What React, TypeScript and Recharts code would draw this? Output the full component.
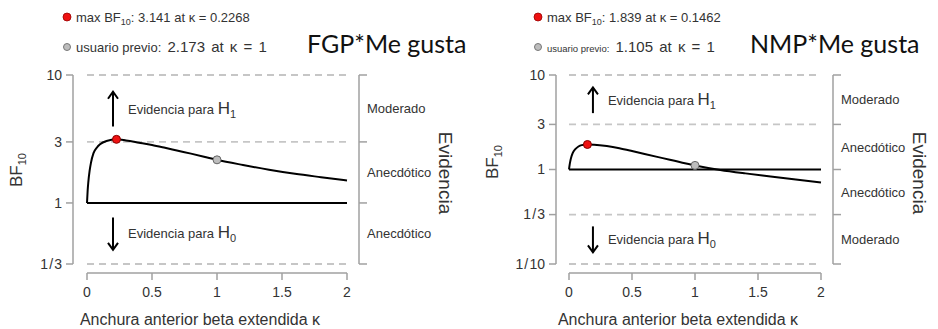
import React from 'react';
import { ComposedChart, Line, XAxis, YAxis, ReferenceLine, ReferenceDot } from 'recharts';

const FONT = '"Liberation Sans", Arial, sans-serif';
const TITLE_FONT = 'Lato, "Open Sans", sans-serif';
const INK = '#333333';
const AXIS = '#a0a0a0';
const GUIDE = '#c6c6c6';

const PANEL_W = 469;
const PANEL_H = 329;

// shared x axis
const xTicks = [0, 0.5, 1, 1.5, 2];

// FGP*Me gusta
const fgpKappa = [0, 0.005, 0.01, 0.02, 0.03, 0.05, 0.075, 0.1, 0.15, 0.2268, 0.3, 0.4, 0.5, 0.6, 0.7, 0.8, 0.9, 1, 1.2, 1.4, 1.6, 1.8, 2];
const fgpBf = [1, 1.25, 1.45, 1.78, 2.05, 2.45, 2.7, 2.87, 3.05, 3.141, 3.08, 2.96, 2.84, 2.7, 2.56, 2.43, 2.3, 2.173, 1.98, 1.82, 1.69, 1.59, 1.5];
const fgpTicks = [1 / 3, 1, 3, 10];
const fgpTickLabels = ['1\u200a/\u200a3', '1', '3', '10'];
const fgpBands = ['Anecdótico', 'Anecdótico', 'Moderado'];
const fgpMax = { k: 0.2268, bf: 3.141 };
const fgpUser = { k: 1, bf: 2.173 };
const fgpArrowUp = [3.95, 7.4];
const fgpArrowDown = [0.77, 0.43];

// NMP*Me gusta
const nmpKappa = [0, 0.005, 0.01, 0.02, 0.03, 0.05, 0.075, 0.1, 0.1462, 0.2, 0.3, 0.4, 0.5, 0.6, 0.7, 0.8, 0.9, 1, 1.2, 1.4, 1.6, 1.8, 2];
const nmpBf = [1, 1.12, 1.22, 1.38, 1.5, 1.64, 1.75, 1.81, 1.839, 1.83, 1.77, 1.68, 1.57, 1.46, 1.36, 1.27, 1.18, 1.105, 0.99, 0.91, 0.845, 0.785, 0.73];
const nmpTicks = [1 / 10, 1 / 3, 1, 3, 10];
const nmpTickLabels = ['1\u200a/\u200a10', '1\u200a/\u200a3', '1', '3', '10'];
const nmpBands = ['Moderado', 'Anecdótico', 'Anecdótico', 'Moderado'];
const nmpMax = { k: 0.1462, bf: 1.839 };
const nmpUser = { k: 1, bf: 1.105 };
const nmpArrowUp = [3.95, 7.4];
const nmpArrowDown = [0.25, 0.133];

interface PanelProps {
  left: number;
  title: string;
  titleX: number;
  kappa: number[];
  bf: number[];
  ticks: number[];
  tickLabels: string[];
  bands: string[];
  max: { k: number; bf: number };
  user: { k: number; bf: number };
  arrowUp: number[];
  arrowDown: number[];
  arrowX: number;
  plotLeft: number;
  plotRight: number;
  axisGap: number;
  headerX: number;
  userLabelSize: number;
  bfLabelX: number;
  bfLabelY: number;
  xTitleX: number;
}

const arrowShape = (sub: string) => (p: any) => {
  const { x1, y1, x2, y2 } = p;
  if (x1 == null) return <g />;
  const wing = y2 < y1 ? 7 : -7;
  const ym = (y1 + y2) / 2;
  return (
    <g>
      <line x1={x1} y1={y1} x2={x2} y2={y2} stroke="#000" strokeWidth={2} />
      <path d={`M${x2 - 5},${y2 + wing} L${x2},${y2} L${x2 + 5},${y2 + wing}`} fill="none" stroke="#000" strokeWidth={2} />
      <text x={x1 + 15} y={ym} dy="0.35em" fontSize={13} fill={INK} fontFamily={FONT}>
        Evidencia para <tspan fontSize={17}>H</tspan>
        <tspan fontSize={11} dy={4}>{sub}</tspan>
      </text>
    </g>
  );
};

const Panel: React.FC<PanelProps> = (p) => {
  const data = p.kappa.map((k, i) => ({ kappa: k, bf: p.bf[i] }));
  const yMin = p.ticks[0];
  const yMax = p.ticks[p.ticks.length - 1];
  const mids = p.ticks.slice(1).map((t, i) => Math.sqrt(t * p.ticks[i]));
  const plotBottom = 264;
  const labelOf = (v: number) => p.tickLabels[p.ticks.indexOf(v)] ?? '';

  const leftTick = (t: any) => (
    <g>
      <line x1={t.x - p.axisGap} x2={t.x - p.axisGap - 7} y1={t.y} y2={t.y} stroke={AXIS} strokeWidth={1.5} />
      <text x={t.x - p.axisGap - 11} y={t.y} dy="0.35em" textAnchor="end" fontSize={14} fill={INK} fontFamily={FONT}>
        {labelOf(t.payload.value)}
      </text>
    </g>
  );
  const rightTick = (t: any) => (
    <line x1={t.x + 12} x2={t.x + 20} y1={t.y} y2={t.y} stroke={AXIS} strokeWidth={1.5} />
  );
  const bottomTick = (t: any) => (
    <g>
      <line x1={t.x} x2={t.x} y1={t.y + 9} y2={t.y + 16} stroke={AXIS} strokeWidth={1.5} />
      <text x={t.x} y={t.y + 28} dy="0.35em" textAnchor="middle" fontSize={14} fill={INK} fontFamily={FONT}>
        {t.payload.value}
      </text>
    </g>
  );

  return (
    <div style={{ position: 'absolute', left: p.left, top: 0, width: PANEL_W, height: PANEL_H }}>
      <ComposedChart width={PANEL_W} height={PANEL_H} data={data} margin={{ top: 75, right: 0, bottom: 0, left: 0 }}>
        <XAxis
          dataKey="kappa"
          type="number"
          domain={[0, 2]}
          ticks={xTicks}
          interval={0}
          height={PANEL_H - plotBottom}
          axisLine={false}
          tickLine={false}
          tickSize={0}
          tickMargin={0}
          tick={bottomTick}
        />
        <YAxis
          type="number"
          scale="log"
          domain={[yMin, yMax]}
          allowDataOverflow
          ticks={p.ticks}
          interval={0}
          width={p.plotLeft}
          axisLine={false}
          tickLine={false}
          tickSize={0}
          tickMargin={0}
          tick={leftTick}
        />
        <YAxis
          yAxisId="r"
          orientation="right"
          type="number"
          scale="log"
          domain={[yMin, yMax]}
          allowDataOverflow
          ticks={p.ticks}
          interval={0}
          width={PANEL_W - p.plotRight}
          axisLine={false}
          tickLine={false}
          tickSize={0}
          tickMargin={0}
          tick={rightTick}
        />
        {/* offset axis lines, R style */}
        <ReferenceLine
          segment={[{ x: 0, y: yMin }, { x: 0, y: yMax }]}
          ifOverflow="visible"
          shape={(s: any) => <line x1={s.x1 - p.axisGap} x2={s.x2 - p.axisGap} y1={s.y1} y2={s.y2} stroke={AXIS} strokeWidth={1.5} />}
        />
        <ReferenceLine
          segment={[{ x: 2, y: yMin }, { x: 2, y: yMax }]}
          ifOverflow="visible"
          shape={(s: any) => <line x1={s.x1 + 12} x2={s.x2 + 12} y1={s.y1} y2={s.y2} stroke={AXIS} strokeWidth={1.5} />}
        />
        <ReferenceLine
          segment={[{ x: 0, y: yMin }, { x: 2, y: yMin }]}
          ifOverflow="visible"
          shape={(s: any) => <line x1={s.x1} x2={s.x2} y1={s.y1 + 9} y2={s.y2 + 9} stroke={AXIS} strokeWidth={1.5} />}
        />
        {p.ticks
          .filter((t) => t !== 1)
          .map((t) => (
            <ReferenceLine key={t} y={t} stroke={GUIDE} strokeWidth={1.8} strokeDasharray="7 5" />
          ))}
        <ReferenceLine y={1} stroke="#000" strokeWidth={2} />
        {mids.map((m, i) => (
          <ReferenceDot
            key={i}
            x={2}
            y={m}
            shape={(s: any) => (
              <text x={s.cx + 20} y={s.cy} dy="0.35em" fontSize={13} fill={INK} fontFamily={FONT}>
                {p.bands[i]}
              </text>
            )}
          />
        ))}
        <ReferenceLine
          segment={[{ x: p.arrowX, y: p.arrowUp[0] }, { x: p.arrowX, y: p.arrowUp[1] }]}
          ifOverflow="visible"
          shape={arrowShape('1')}
        />
        <ReferenceLine
          segment={[{ x: p.arrowX, y: p.arrowDown[0] }, { x: p.arrowX, y: p.arrowDown[1] }]}
          ifOverflow="visible"
          shape={arrowShape('0')}
        />
        <Line
          dataKey="bf"
          type="monotone"
          stroke="#000"
          strokeWidth={2}
          dot={false}
          activeDot={false}
          isAnimationActive={false}
        />
        <ReferenceDot x={p.max.k} y={p.max.bf} r={4} fill="#ee1111" stroke="#800" strokeWidth={1} />
        <ReferenceDot x={p.user.k} y={p.user.bf} r={4} fill="#bdbdbd" stroke="#666" strokeWidth={1} />
      </ComposedChart>
      <svg
        width={PANEL_W}
        height={PANEL_H}
        style={{ position: 'absolute', left: 0, top: 0, pointerEvents: 'none' }}
        fontFamily={FONT}
      >
        <circle cx={p.headerX - 9} cy={17} r={4} fill="#ee1111" stroke="#900" strokeWidth={0.8} />
        <text x={p.headerX} y={22} fontSize={13} fill={INK}>
          max BF<tspan fontSize={9} dy={3}>10</tspan>
          <tspan dy={-3}>: {p.max.bf} at κ = {p.max.k}</tspan>
        </text>
        <circle cx={p.headerX - 9} cy={47} r={3.5} fill="#bdbdbd" stroke="#777" strokeWidth={1} />
        <text x={p.headerX} y={52} fill={INK}>
          <tspan fontSize={p.userLabelSize}>usuario previo:</tspan>
          <tspan fontSize={15} wordSpacing={2}> {p.user.bf} at κ = {p.user.k}</tspan>
        </text>
        <text x={p.titleX} y={53} fontSize={25} fill="#111" fontFamily={TITLE_FONT}>
          {p.title}
        </text>
        <text
          transform={`translate(${p.bfLabelX},${p.bfLabelY}) rotate(-90)`}
          textAnchor="middle"
          fontSize={17}
          fill={INK}
        >
          BF<tspan fontSize={11} dy={4}>10</tspan>
        </text>
        <text transform={`translate(${p.plotRight + 92},173) rotate(90)`} textAnchor="middle" fontSize={19} fill={INK}>
          Evidencia
        </text>
        <text x={p.xTitleX} y={325} textAnchor="middle" fontSize={16} fill={INK}>
          Anchura anterior beta extendida κ
        </text>
      </svg>
    </div>
  );
};

export default function App() {
  return (
    <div style={{ position: 'absolute', left: 0, top: 0, width: 938, height: 329, background: '#fff' }}>
      <Panel
        left={0}
        title="FGP*Me gusta"
        titleX={307}
        kappa={fgpKappa}
        bf={fgpBf}
        ticks={fgpTicks}
        tickLabels={fgpTickLabels}
        bands={fgpBands}
        max={fgpMax}
        user={fgpUser}
        arrowUp={fgpArrowUp}
        arrowDown={fgpArrowDown}
        arrowX={0.2}
        plotLeft={87}
        plotRight={347}
        axisGap={14}
        headerX={76}
        userLabelSize={13}
        bfLabelX={22}
        bfLabelY={170}
        xTitleX={200}
      />
      <Panel
        left={469}
        title="NMP*Me gusta"
        titleX={281}
        kappa={nmpKappa}
        bf={nmpBf}
        ticks={nmpTicks}
        tickLabels={nmpTickLabels}
        bands={nmpBands}
        max={nmpMax}
        user={nmpUser}
        arrowUp={nmpArrowUp}
        arrowDown={nmpArrowDown}
        arrowX={0.19}
        plotLeft={100}
        plotRight={352}
        axisGap={13}
        headerX={78}
        userLabelSize={9.5}
        bfLabelX={29}
        bfLabelY={162}
        xTitleX={209}
      />
    </div>
  );
}
